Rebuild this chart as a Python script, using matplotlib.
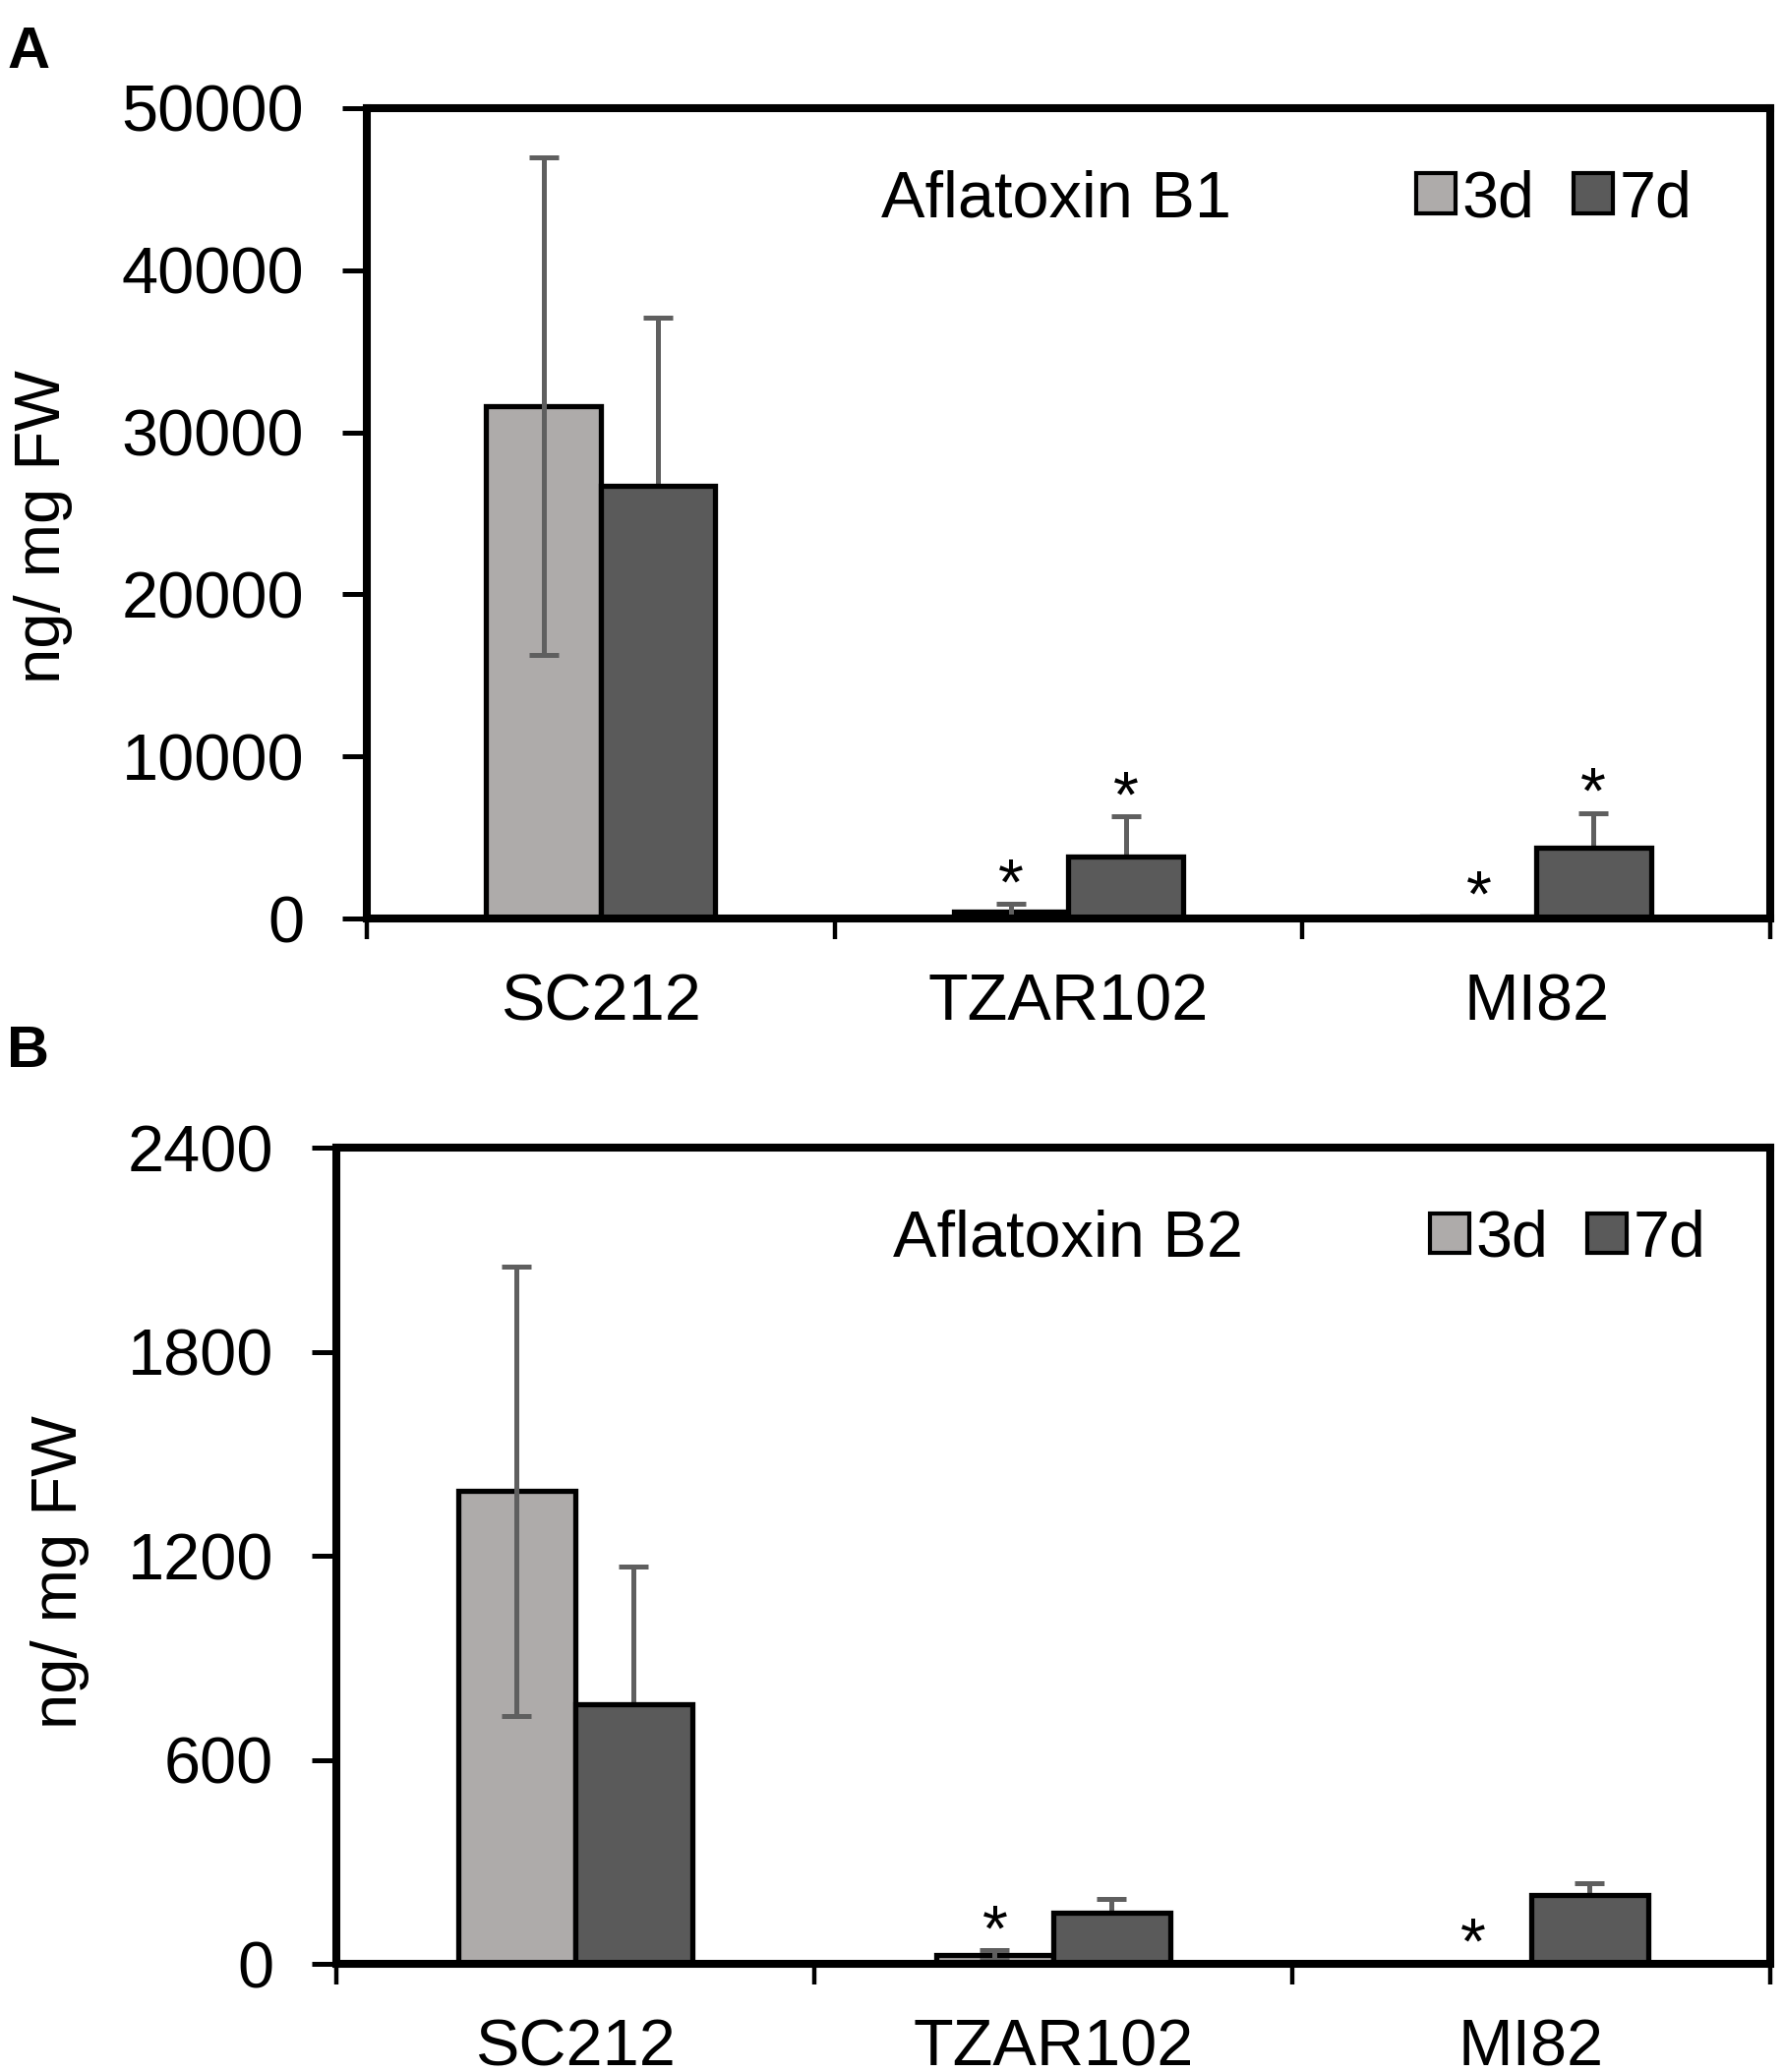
import numpy as np
import matplotlib
matplotlib.use("Agg")
import matplotlib.pyplot as plt
from matplotlib.patches import Patch

plt.rcParams['font.family'] = ['Liberation Sans', 'DejaVu Sans']

# data
genotypes = ['SC212', 'TZAR102', 'MI82']

b1_3d = [31600, 400, 150]
b1_3d_err = [15350, 500, 0]
b1_7d = [26700, 3800, 4400]
b1_7d_err = [10400, 2500, 2100]
b1_star_3d = [False, True, True]
b1_star_7d = [False, True, True]

b2_3d = [1390, 26, 0]
b2_3d_err = [660, 14, 0]
b2_7d = [763, 150, 202]
b2_7d_err = [406, 41, 36]
b2_star_3d = [False, True, True]
b2_star_7d = [False, False, False]

b1_ticks = [0, 10000, 20000, 30000, 40000, 50000]
b2_ticks = [0, 600, 1200, 1800, 2400]

c3 = '#aeabaa'
c7 = '#5a5a5a'
cerr = '#5f5f5f'
fs = 48


def panel(ax, m3, e3, m7, e7, s3, s7, yticks, title, tx, lx):
    x = np.arange(len(genotypes)) + 0.5
    w = 0.245
    ax.bar(x - w / 2, m3, w, color=c3, edgecolor='black', linewidth=3.8, zorder=1)
    ax.bar(x + w / 2, m7, w, color=c7, edgecolor='black', linewidth=3.8, zorder=1)
    # 3d error bars drawn over the bars, 7d ones hidden behind their bar
    ax.errorbar(x - w / 2, m3, yerr=e3, fmt='none', ecolor=cerr, elinewidth=3.6,
                capsize=10.5, capthick=3.6, zorder=2)
    ax.errorbar(x + w / 2, m7, yerr=e7, fmt='none', ecolor=cerr, elinewidth=3.6,
                capsize=10.5, capthick=3.6, zorder=0.5)
    for xx, m, e, s in [(x - w / 2, m3, e3, s3), (x + w / 2, m7, e7, s7)]:
        for xi, mi, ei, si in zip(xx, m, e, s):
            if si:
                ax.text(xi, mi + ei, '*', ha='center', va='baseline', fontsize=fs)

    ax.set_xlim(0, len(genotypes))
    ax.set_ylim(yticks[0], yticks[-1])
    ax.set_yticks(yticks)
    ax.set_xticks(np.arange(len(genotypes) + 1))
    ax.set_xticklabels([])
    ax.set_xticks(x, minor=True)
    ax.set_xticklabels(genotypes, minor=True, fontsize=fs)
    ax.tick_params(axis='y', labelsize=fs, length=18, width=3.6, pad=28)
    ax.tick_params(axis='x', which='major', length=15, width=3.2, direction='out')
    ax.tick_params(axis='x', which='minor', length=0, pad=40)
    for sp in ax.spines.values():
        sp.set_linewidth(5.8)

    ax.text(tx, 0.887, title, transform=ax.transAxes, ha='center', va='center', fontsize=fs)
    handles = [Patch(facecolor=c3, edgecolor='black', linewidth=3),
               Patch(facecolor=c7, edgecolor='black', linewidth=3)]
    ax.legend(handles, ['3d', '7d'], loc='center', bbox_to_anchor=(lx, 0.887),
              ncol=2, frameon=False, fontsize=fs, handlelength=0.6, handleheight=0.55,
              handletextpad=0.1, columnspacing=0.6, borderpad=0, borderaxespad=0)


fig = plt.figure(figsize=(18.15, 21.07), dpi=100)
axA = fig.add_axes([0.2055, 0.5567, 0.7862, 0.3911])
axB = fig.add_axes([0.1884, 0.0522, 0.8033, 0.3939])

panel(axA, b1_3d, b1_3d_err, b1_7d, b1_7d_err, b1_star_3d, b1_star_7d,
      b1_ticks, 'Aflatoxin B1', 0.491, 0.846)
panel(axB, b2_3d, b2_3d_err, b2_7d, b2_7d_err, b2_star_3d, b2_star_7d,
      b2_ticks, 'Aflatoxin B2', 0.51, 0.859)

fig.text(0.0243, 0.7456, 'ng/ mg FW', rotation=90, ha='center', va='center', fontsize=47)
fig.text(0.0336, 0.2411, 'ng/ mg FW', rotation=90, ha='center', va='center', fontsize=47)

fig.text(0.004, 0.9745, 'A', fontsize=43, fontweight='bold', ha='left', va='center')
fig.text(0.004, 0.4925, 'B', fontsize=43, fontweight='bold', ha='left', va='center')

fig.savefig('out.png', dpi=100)
